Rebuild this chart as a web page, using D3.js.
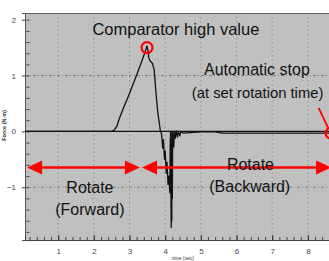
<!DOCTYPE html>
<html>
<head>
<meta charset="utf-8">
<script src="https://cdn.jsdelivr.net/npm/d3@7"></script>
<style>
  html, body { margin: 0; padding: 0; background: #fff; overflow: hidden; }
  svg { display: block; font-family: "Liberation Sans", Arial, sans-serif; }
</style>
</head>
<body>
<div id="chart"></div>
<script>
const width = 329, height = 261;

// force trace: [time (sec), force (N·m)]
const trace = [
  [0.07, 0], [2.5, 0], [2.58, 0.03], [2.65, 0.1], [2.72, 0.24], [2.85, 0.45],
  [3.0, 0.68], [3.15, 0.93], [3.3, 1.18], [3.45, 1.45], [3.49, 1.53],
  [3.52, 1.44], [3.54, 1.32], [3.58, 1.26], [3.64, 1.22], [3.69, 1.11],
  [3.74, 0.7], [3.79, 0.35], [3.86, 0.03], [3.9, -0.05], [3.93, -0.3],
  [3.95, -0.15], [3.98, -0.5], [4.0, -0.35], [4.03, -0.75], [4.05, -0.55],
  [4.08, -0.95], [4.1, -0.8], [4.13, -1.1], [4.14, -0.3], [4.15, 0.0],
  [4.16, -1.1], [4.17, -1.72], [4.18, -0.9], [4.185, -1.6], [4.19, 0.0],
  [4.2, -1.2], [4.21, 0.0], [4.24, -0.28], [4.26, 0.0], [4.29, -0.12],
  [4.31, 0.01], [4.35, -0.1], [4.37, 0.0], [4.41, -0.08], [4.44, 0.0],
  [4.5, -0.03], [5.0, -0.01], [5.4, -0.01], [5.6, -0.03], [8.9, -0.03]
];

const xTicks = [1, 2, 3, 4, 5, 6, 7, 8];
const yTicks = [2, 1, 0, -1];
const xDomain = [0.07, 8.9];
const yDomain = [-1.945, 2.12];

// annotations, in data coordinates
const notes = [
  { text: "Comparator high value", x: 4.3, y: 1.73, size: 16.5 },
  { text: "Automatic stop", x: 6.57, y: 1.01, size: 16 },
  { text: "(at set rotation time)", x: 6.59, y: 0.6, size: 14.8 },
  { text: "Rotate", x: 1.89, y: -1.1, size: 16 },
  { text: "(Forward)", x: 1.89, y: -1.5, size: 16 },
  { text: "Rotate", x: 6.39, y: -0.7, size: 16 },
  { text: "(Backward)", x: 6.37, y: -1.08, size: 16 }
];
const markers = [[3.49, 1.5], [8.65, -0.03]];
const arrows = [[0.13, 3.29], [3.35, 8.65]];
const arrowY = -0.645;
const pointer = [[8.3, 0.42], [8.56, 0.07]];

const pLeft = 25, pTop = 13, pBottom = 240, pRight = 340;

const x = d3.scaleLinear().domain(xDomain).range([pLeft, pRight]);
const y = d3.scaleLinear().domain(yDomain).range([pBottom, pTop]);

const svg = d3.select("#chart").append("svg")
  .attr("width", width)
  .attr("height", height);

svg.append("rect")
  .attr("x", pLeft).attr("y", pTop)
  .attr("width", pRight - pLeft).attr("height", pBottom - pTop)
  .attr("fill", "#c0c0c0");

// dotted grid
svg.append("g").selectAll("line").data(xTicks).enter().append("line")
  .attr("x1", d => x(d)).attr("x2", d => x(d))
  .attr("y1", pTop).attr("y2", pBottom)
  .attr("stroke", "#7a7a7a").attr("stroke-width", 0.8)
  .attr("stroke-dasharray", "1.2,3");
svg.append("g").selectAll("line").data([1, -1]).enter().append("line")
  .attr("x1", pLeft).attr("x2", pRight)
  .attr("y1", d => y(d)).attr("y2", d => y(d))
  .attr("stroke", "#666").attr("stroke-width", 0.8)
  .attr("stroke-dasharray", "3,2,1,2");

// frame top
svg.append("line")
  .attr("x1", pLeft).attr("x2", pRight).attr("y1", pTop + 0.5).attr("y2", pTop + 0.5)
  .attr("stroke", "#666").attr("stroke-width", 1);

// zero line
svg.append("line")
  .attr("x1", pLeft).attr("x2", pRight).attr("y1", y(0)).attr("y2", y(0))
  .attr("stroke", "#111").attr("stroke-width", 1.4);

// axes
const yAxisMinor = d3.axisLeft(y).tickValues(d3.range(-1.8, 2.01, 0.2)).tickSize(-3).tickFormat("");
svg.append("g").attr("transform", `translate(${pLeft + 1.5},0)`).call(yAxisMinor)
  .call(g => g.select(".domain").remove())
  .selectAll("line").attr("stroke", "#444");
const yAxis = d3.axisLeft(y).tickValues(yTicks).tickSize(3).tickPadding(6)
  .tickFormat(d3.format("d"));
svg.append("g").attr("transform", `translate(${pLeft},0)`).call(yAxis)
  .call(g => g.select(".domain").attr("stroke", "#555"))
  .call(g => g.selectAll("line").attr("stroke", "#333"))
  .call(g => g.selectAll("text").attr("font-size", 8).attr("fill", "#445"));

const xAxisMinor = d3.axisTop(x).tickValues(d3.range(0.2, 8.81, 0.2)).tickSize(3).tickFormat("");
svg.append("g").attr("transform", `translate(0,${pBottom})`).call(xAxisMinor)
  .call(g => g.select(".domain").remove())
  .selectAll("line").attr("stroke", "#444");
const xAxis = d3.axisBottom(x).tickValues(xTicks).tickSize(-5).tickPadding(8)
  .tickFormat(d3.format("d"));
svg.append("g").attr("transform", `translate(0,${pBottom})`).call(xAxis)
  .call(g => g.select(".domain").attr("stroke", "#444"))
  .call(g => g.selectAll("line").attr("stroke", "#333"))
  .call(g => g.selectAll("text").attr("font-size", 8).attr("fill", "#445"));

// axis titles (tiny in the source)
svg.append("text")
  .attr("transform", `translate(6,${y(0) - 6}) rotate(-90)`)
  .attr("text-anchor", "middle")
  .attr("font-size", 5.5).attr("font-weight", "bold").attr("fill", "#333")
  .text("Force (N·m)");
svg.append("text")
  .attr("x", 183).attr("y", 260)
  .attr("text-anchor", "middle")
  .attr("font-size", 5).attr("fill", "#334")
  .text("time (sec)");

// force trace
const line = d3.line().x(d => x(d[0])).y(d => y(d[1]));
svg.append("path")
  .datum(trace)
  .attr("d", line)
  .attr("fill", "none")
  .attr("stroke", "#111")
  .attr("stroke-width", 1.3)
  .attr("stroke-linejoin", "round");

// red arrows
const red = "#ff0000";
const headL = 15, headH = 7;
arrows.forEach(a => {
  const x0 = x(a[0]), x1 = x(a[1]), yy = y(arrowY);
  svg.append("line")
    .attr("x1", x0 + headL - 1).attr("x2", x1 - headL + 1)
    .attr("y1", yy).attr("y2", yy)
    .attr("stroke", red).attr("stroke-width", 2.5);
  svg.append("path")
    .attr("d", `M${x0},${yy} L${x0 + headL},${yy - headH} L${x0 + headL},${yy + headH} Z`)
    .attr("fill", red);
  svg.append("path")
    .attr("d", `M${x1},${yy} L${x1 - headL},${yy - headH} L${x1 - headL},${yy + headH} Z`)
    .attr("fill", red);
});

svg.append("line")
  .attr("x1", x(pointer[0][0])).attr("y1", y(pointer[0][1]))
  .attr("x2", x(pointer[1][0])).attr("y2", y(pointer[1][1]))
  .attr("stroke", red).attr("stroke-width", 1.8);

svg.selectAll(".marker").data(markers).enter().append("circle")
  .attr("class", "marker")
  .attr("cx", d => x(d[0])).attr("cy", d => y(d[1]))
  .attr("r", 5.5)
  .attr("fill", "none").attr("stroke", red).attr("stroke-width", 2.2);

// labels
svg.selectAll(".note").data(notes).enter().append("text")
  .attr("class", "note")
  .attr("x", d => x(d.x)).attr("y", d => y(d.y))
  .attr("text-anchor", "middle")
  .attr("font-size", d => d.size)
  .attr("fill", "#111")
  .text(d => d.text);
</script>
</body>
</html>
